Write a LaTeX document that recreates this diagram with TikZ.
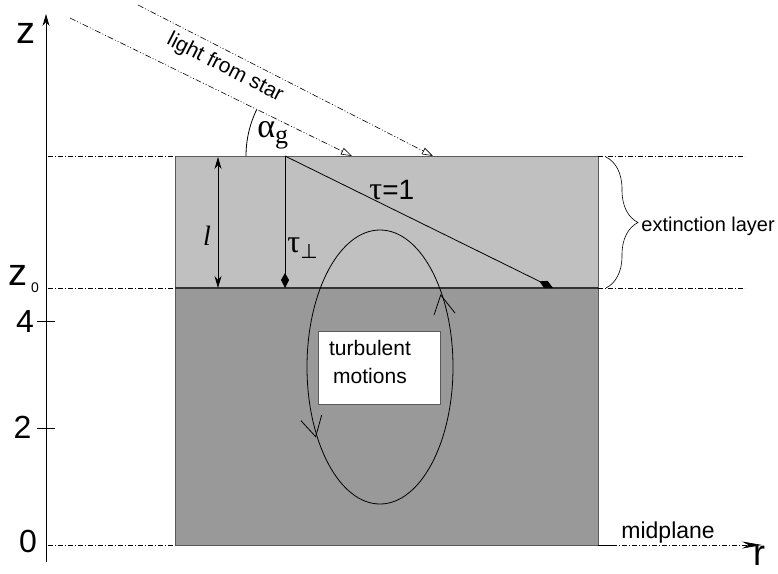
\documentclass[tikz,border=0pt]{standalone}
\usepackage{fontspec}
\setmainfont{Liberation Sans}
\newfontfamily\serifface{Liberation Serif}
\newfontfamily\symface{DejaVu Sans}
\usetikzlibrary{arrows.meta,decorations.pathreplacing}
\definecolor{lightlayer}{HTML}{C0C0C0}
\definecolor{darklayer}{HTML}{999999}
\definecolor{edgegray}{HTML}{5A5A5A}
\newcommand{\fsz}[1]{\fontsize{#1}{#1}\selectfont}
\begin{document}
\begin{tikzpicture}[x=1pt,y=-1pt,line width=0.8pt,
  dashdot/.style={line width=0.6pt,dash pattern=on 5pt off 2pt on 1pt off 2pt},
  raystyle/.style={line width=0.6pt,dash pattern=on 6pt off 2pt on 1pt off 2pt on 1pt off 2pt},
  lbl/.style={inner sep=0pt},
  kitetip/.style={-{Kite[length=15pt,width=8pt,inset=7pt]}},
  barb/.style={line width=0.8pt}]
\useasboundingbox (0,0) rectangle (778,573);
% layers
\fill[lightlayer] (175,156) rectangle (598,288);
\fill[darklayer] (175,288) rectangle (598,545);
\draw[edgegray] (175,156) rectangle (598,545);
\draw[black!80,line width=1.1pt] (175,288) -- (598,288);
% coordinates
\coordinate (axbot) at (46,562);
\coordinate (axtop) at (46,14);
\coordinate (mpA) at (48,545);
\coordinate (mpB) at (175,545);
\coordinate (mpC) at (598,545);
\coordinate (mpD) at (612,545);
\coordinate (mpE) at (762,545);
\coordinate (topL) at (48,156);
\coordinate (topBL) at (175,156);
\coordinate (topBR) at (598,156);
\coordinate (topR) at (745,156);
\coordinate (z0L) at (48,288);
\coordinate (z0BL) at (175,288);
\coordinate (z0BR) at (598,288);
\coordinate (z0R) at (745,288);
% axes
\draw[-{Stealth[length=12pt,width=7pt]}] (axbot) -- (axtop);
\draw[dashdot] (mpA) -- (mpB);
\draw (mpC) -- (mpD);
\draw[dashdot,-{Stealth[length=20pt,width=7pt]}] (mpD) -- (mpE);
\draw[dashdot] (topL) -- (topBL);
\draw[dashdot] (topBR) -- (topR);
\draw[dashdot] (z0L) -- (z0BL);
\draw[dashdot] (z0BR) -- (z0R);
% ticks
\coordinate (t4a) at (37,321); \coordinate (t4b) at (55,321);
\coordinate (t2a) at (37,428); \coordinate (t2b) at (55,428);
\draw[line width=0.6pt] (t4a) -- (t4b);
\draw[line width=0.6pt] (t2a) -- (t2b);
\node[lbl] (zlab) at (26,33) {\fsz{38}z};
\node[lbl] (z0lab) at (18.5,275) {\fsz{38}z};
\node[lbl] (z0sub) at (35,288) {\fsz{14}0};
\node[lbl] (n4) at (25,321) {\fsz{32}4};
\node[lbl] (n2) at (22.5,427.5) {\fsz{32}2};
\node[lbl] (n0) at (28,541.5) {\fsz{32}0};
\node[lbl] (rlab) at (759,556) {\fsz{36}r};
\node[lbl,anchor=base west] (mid) at (621,538) {\fsz{23}midplane};
% light rays
\coordinate (r1s) at (70,18); \coordinate (r1e) at (352,156);
\coordinate (r2s) at (138,5); \coordinate (r2e) at (433,156);
\draw[raystyle,-{Triangle[open,length=11pt,width=7pt,line width=0.6pt]}] (r1s) -- (r1e);
\draw[raystyle,-{Triangle[open,length=11pt,width=7pt,line width=0.6pt]}] (r2s) -- (r2e);
\node[lbl,rotate=-27] (light) at (225,68) {\fsz{21}light from star};
% angle
\coordinate (arcS) at (246,156);
\draw (arcS) arc[start angle=180,end angle=154,radius=106pt];
\node[lbl,anchor=base west] (alpha) at (257,137) {\serifface\fsz{34}α\raisebox{-6pt}{\fsz{26}g}};
% l arrow
\coordinate (lT) at (218,157); \coordinate (lB) at (218,288);
\draw[{Stealth[length=12pt,width=7pt]}-{Stealth[length=12pt,width=7pt]}] (lT) -- (lB);
\node[lbl] (llab) at (207,236) {\serifface\itshape\fsz{28}l};
% tau arrows
\coordinate (tauS) at (285,156); \coordinate (tauB) at (285,288); \coordinate (tauE) at (553,288);
\draw[kitetip] (tauS) -- (tauB);
\draw[kitetip] (tauS) -- (tauE);
\node[lbl,anchor=base west] (tau1) at (369,199) {{\serifface\fsz{32}τ}\fsz{28}=1};
\node[lbl,anchor=base west] (tauperp) at (287,252) {{\serifface\fsz{32}τ}\raisebox{-6pt}{\symface\fsz{20}⊥}};
% turbulent motions
\coordinate (ell) at (380,367);
\draw (ell) ellipse [x radius=73pt, y radius=137pt];
\coordinate (a1t) at (440.7,295); \coordinate (a1l) at (434,315); \coordinate (a1r) at (455,313);
\coordinate (a2t) at (315.7,436.7); \coordinate (a2l) at (301,420.7); \coordinate (a2r) at (321.7,415);
\draw[barb] (a1l) -- (a1t) -- (a1r);
\draw[barb] (a2l) -- (a2t) -- (a2r);
\node[draw=edgegray,fill=white,minimum width=122pt,minimum height=73pt,inner sep=0pt] (tb) at (379,367.5) {};
\node[lbl,align=center,font=\fontsize{21}{28}\selectfont] (tbt) at (370,362) {turbulent\\motions};
% brace
\coordinate (brT) at (606,157); \coordinate (brB) at (606,288);
\draw[line width=0.6pt,decorate,decoration={brace,amplitude=32pt}] (brT) -- (brB);
\node[lbl,anchor=west] (ext) at (641,226) {\fsz{20}extinction layer};
\end{tikzpicture}
\end{document}
